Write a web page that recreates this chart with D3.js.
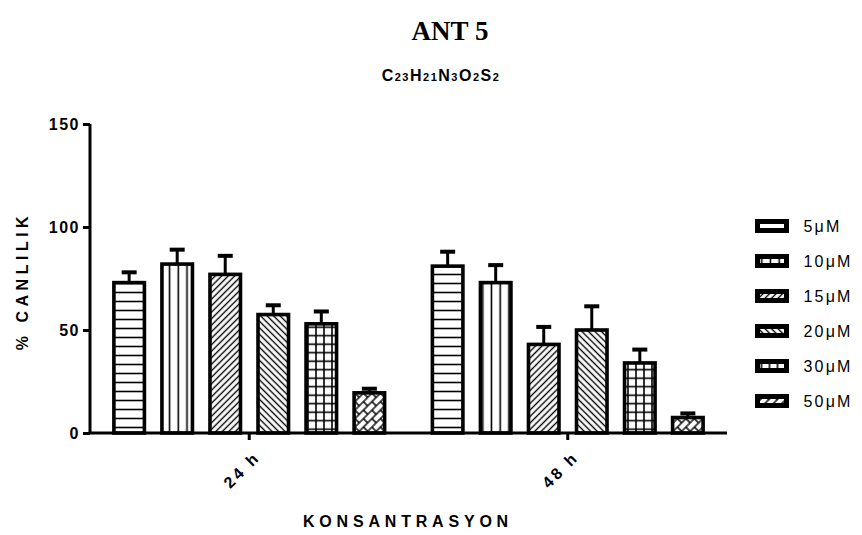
<!DOCTYPE html>
<html>
<head>
<meta charset="utf-8">
<script src="https://cdn.jsdelivr.net/npm/d3@7"></script>
<style>
  body { margin: 0; background: #fff; }
  svg { display: block; }
</style>
</head>
<body>
<div id="chart"></div>
<script>
	// chart data
	var groups = ["24 h", "48 h"];
	var concs = ["5\u03bcM", "10\u03bcM", "15\u03bcM", "20\u03bcM", "30\u03bcM", "50\u03bcM"];
	var means24 = [73, 82, 77, 57.5, 53, 19.5];
	var sd24 = [5, 7, 9, 4.5, 6, 2];
	var means48 = [81, 73, 43, 50, 34, 7.5];
	var sd48 = [7, 8.5, 8.5, 11.5, 6.5, 2];
	var yTicks = [0, 50, 100, 150];

	var width = 862,
		height = 535,
		font = "'Liberation Sans', Arial, sans-serif";

	var svg = d3.select("#chart").append("svg")
		.attr("width", width)
		.attr("height", height);

	/*
	 * Fill patterns, one per concentration
	 */
	var defs = svg.append("defs");
	var patIds = ["p-h", "p-v", "p-d1", "p-d2", "p-grid", "p-brick"];

	var p = defs.append("pattern").attr("id", "p-h").attr("patternUnits", "userSpaceOnUse")
		.attr("width", 10).attr("height", 9);
	p.append("rect").attr("width", 10).attr("height", 9).attr("fill", "#fff");
	p.append("line").attr("x1", 0).attr("x2", 10).attr("y1", 4.5).attr("y2", 4.5)
		.attr("stroke", "#000").attr("stroke-width", 1.6);

	p = defs.append("pattern").attr("id", "p-v").attr("patternUnits", "userSpaceOnUse")
		.attr("width", 8.7).attr("height", 10);
	p.append("rect").attr("width", 8.7).attr("height", 10).attr("fill", "#fff");
	p.append("line").attr("x1", 4.3).attr("x2", 4.3).attr("y1", 0).attr("y2", 10)
		.attr("stroke", "#000").attr("stroke-width", 1.6);

	p = defs.append("pattern").attr("id", "p-d1").attr("patternUnits", "userSpaceOnUse")
		.attr("width", 4.6).attr("height", 10).attr("patternTransform", "rotate(45)");
	p.append("rect").attr("width", 4.6).attr("height", 10).attr("fill", "#fff");
	p.append("line").attr("x1", 2.3).attr("x2", 2.3).attr("y1", 0).attr("y2", 10)
		.attr("stroke", "#000").attr("stroke-width", 1.4);

	p = defs.append("pattern").attr("id", "p-d2").attr("patternUnits", "userSpaceOnUse")
		.attr("width", 4.6).attr("height", 10).attr("patternTransform", "rotate(-45)");
	p.append("rect").attr("width", 4.6).attr("height", 10).attr("fill", "#fff");
	p.append("line").attr("x1", 2.3).attr("x2", 2.3).attr("y1", 0).attr("y2", 10)
		.attr("stroke", "#000").attr("stroke-width", 1.4);

	p = defs.append("pattern").attr("id", "p-grid").attr("patternUnits", "userSpaceOnUse")
		.attr("width", 8).attr("height", 8.5);
	p.append("rect").attr("width", 8).attr("height", 8.5).attr("fill", "#fff");
	p.append("line").attr("x1", 4).attr("x2", 4).attr("y1", 0).attr("y2", 8.5)
		.attr("stroke", "#000").attr("stroke-width", 1.6);
	p.append("line").attr("x1", 0).attr("x2", 8).attr("y1", 4.2).attr("y2", 4.2)
		.attr("stroke", "#000").attr("stroke-width", 1.6);

	// rotated brick pattern for 50uM
	p = defs.append("pattern").attr("id", "p-brick").attr("patternUnits", "userSpaceOnUse")
		.attr("width", 12).attr("height", 12).attr("patternTransform", "rotate(45)");
	p.append("rect").attr("width", 12).attr("height", 12).attr("fill", "#fff");
	p.append("path")
		.attr("d", "M1,0V12M7,0V12M1,3H7M7,9H13M-5,9H1")
		.attr("stroke", "#000").attr("stroke-width", 1.4).attr("fill", "none");

	/*
	 * Scales
	 */
	var x0 = d3.scaleBand()
		.domain(groups)
		.range([90, 727]);

	var x1 = d3.scaleBand()
		.domain(concs)
		.range([0, x0.bandwidth()])
		.paddingInner(0.29)
		.paddingOuter(0.46);

	var y = d3.scaleLinear()
		.domain([0, 150])
		.range([433, 124]);

	var data = [];
	groups.forEach(function(g, gi) {
		var m = gi === 0 ? means24 : means48,
			s = gi === 0 ? sd24 : sd48;
		concs.forEach(function(c, ci) {
			data.push({group: g, conc: c, idx: ci, mean: m[ci], sd: s[ci]});
		});
	});

	var sw = 3.6;   // bar outline

	/*
	 * Error bars (drawn under the bars)
	 */
	var err = svg.append("g").selectAll("g")
		.data(data)
		.enter().append("g");

	err.append("line")
		.attr("x1", function(d) { return x0(d.group) + x1(d.conc) + x1.bandwidth() / 2; })
		.attr("x2", function(d) { return x0(d.group) + x1(d.conc) + x1.bandwidth() / 2; })
		.attr("y1", function(d) { return y(d.mean); })
		.attr("y2", function(d) { return y(d.mean + d.sd); })
		.attr("stroke", "#000")
		.attr("stroke-width", 3);

	err.append("rect")
		.attr("x", function(d) { return x0(d.group) + x1(d.conc) + x1.bandwidth() / 2 - 7.5; })
		.attr("y", function(d) { return y(d.mean + d.sd) - 2; })
		.attr("width", 15)
		.attr("height", 4)
		.attr("fill", "#000");

	/*
	 * Bars
	 */
	svg.append("g").selectAll("rect")
		.data(data)
		.enter().append("rect")
			.attr("x", function(d) { return x0(d.group) + x1(d.conc) + sw / 2; })
			.attr("y", function(d) { return y(d.mean); })
			.attr("width", x1.bandwidth() - sw)
			.attr("height", function(d) { return y(0) - y(d.mean); })
			.attr("fill", function(d) { return "url(#" + patIds[d.idx] + ")"; })
			.attr("stroke", "#000")
			.attr("stroke-width", sw);

	/*
	 * Axes
	 */
	var yAxis = svg.append("g")
		.attr("transform", "translate(90,0)")
		.call(d3.axisLeft(y).tickValues(yTicks).tickSize(7).tickPadding(3));

	var xAxis = svg.append("g")
		.attr("transform", "translate(0,433)")
		.call(d3.axisBottom(x0).tickSize(7).tickPadding(6));

	[yAxis, xAxis].forEach(function(ax) {
		ax.attr("font-size", null);
		ax.select(".domain").attr("stroke-width", 3).attr("stroke", "#000");
		ax.selectAll(".tick line").attr("stroke-width", 3).attr("stroke", "#000");
		ax.selectAll("text")
			.attr("fill", "#000")
			.attr("font-family", font)
			.attr("font-weight", "bold")
			.attr("font-size", 16)
			.attr("letter-spacing", 1.5);
	});
	// no end ticks on the domain paths
	yAxis.select(".domain").attr("d", "M0," + y(150) + "V" + y(0));
	xAxis.select(".domain").attr("d", "M90,0H727");

	xAxis.selectAll("text")
		.attr("text-anchor", "end")
		.attr("dy", "0.35em")
		.attr("letter-spacing", 3)
		.attr("transform", "translate(-1,12) rotate(-45)");

	/*
	 * Titles
	 */
	svg.append("text")
		.attr("x", 450).attr("y", 40)
		.attr("text-anchor", "middle")
		.attr("font-family", "'Liberation Serif', 'Times New Roman', serif")
		.attr("font-weight", "bold")
		.attr("font-size", 27)
		.text("ANT 5");

	var formula = [["C", ""], ["23", "s"], ["H", ""], ["21", "s"], ["N", ""], ["3", "s"],
		["O", ""], ["2", "s"], ["S", ""], ["2", "s"]];
	var sub = svg.append("text")
		.attr("x", 441).attr("y", 81)
		.attr("text-anchor", "middle")
		.attr("font-family", font)
		.attr("font-weight", "bold")
		.attr("letter-spacing", 1.5);
	formula.forEach(function(f) {
		sub.append("tspan")
			.attr("font-size", f[1] ? 11 : 16)
			.text(f[0]);
	});

	svg.append("text")
		.attr("transform", "translate(28,281) rotate(-90)")
		.attr("text-anchor", "middle")
		.attr("font-family", font)
		.attr("font-weight", "bold")
		.attr("font-size", 16)
		.attr("letter-spacing", 4.5)
		.text("% CANLILIK");

	svg.append("text")
		.attr("x", 408).attr("y", 527)
		.attr("text-anchor", "middle")
		.attr("font-family", font)
		.attr("font-weight", "bold")
		.attr("font-size", 16)
		.attr("letter-spacing", 4.8)
		.text("KONSANTRASYON");

	/*
	 * Legend
	 */
	var legend = svg.append("g").selectAll("g")
		.data(concs)
		.enter().append("g")
			.attr("transform", function(d, i) { return "translate(757.5," + (226 + i * 35) + ")"; });

	legend.append("rect")
		.attr("x", 0).attr("y", -4.5)
		.attr("width", 29).attr("height", 9)
		.attr("fill", function(d, i) { return "url(#" + patIds[i] + ")"; })
		.attr("stroke", "#000")
		.attr("stroke-width", 5);

	legend.append("text")
		.attr("x", 46)
		.attr("y", 0)
		.attr("dy", "0.36em")
		.attr("font-family", font)
		.attr("font-size", 16)
		.attr("letter-spacing", 2.2)
		.text(function(d) { return d; });
</script>
</body>
</html>
